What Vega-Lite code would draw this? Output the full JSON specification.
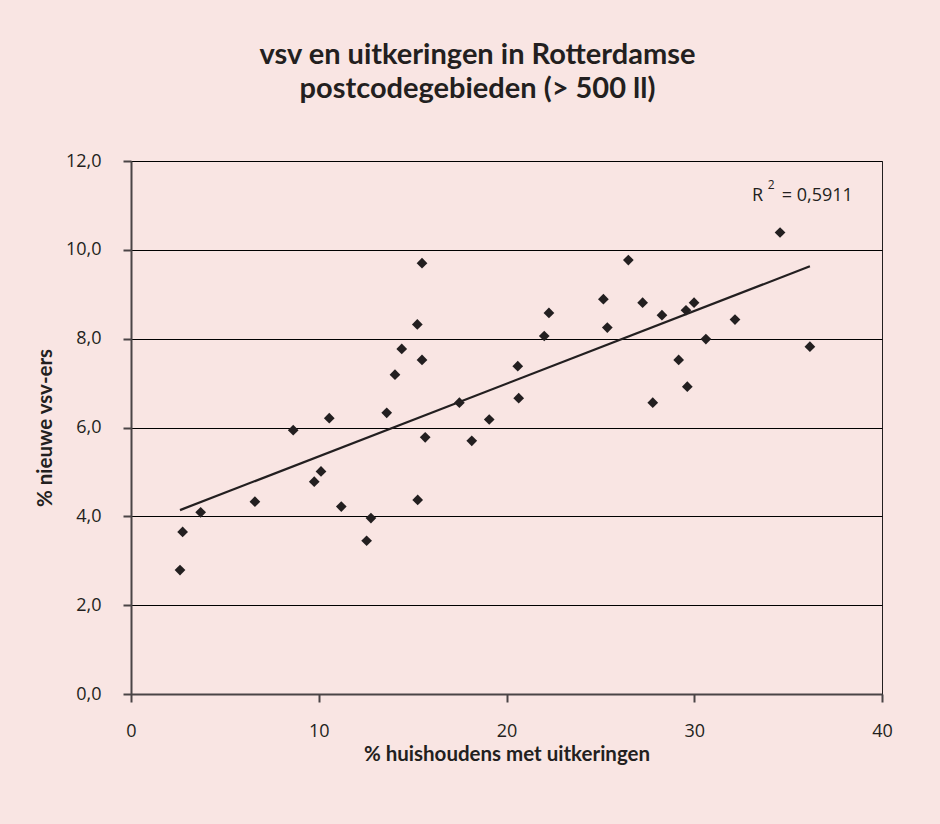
{
  "$schema": "https://vega.github.io/schema/vega-lite/v6.json",
  "width": 751,
  "height": 533,
  "autosize": {"type": "none"},
  "padding": {"left": 131, "top": 161, "right": 58, "bottom": 130},
  "background": "#f9e5e3",
  "title": {
    "text": ["vsv en uitkeringen in Rotterdamse", "postcodegebieden (> 500 ll)"],
    "font": "Lato",
    "fontSize": 29,
    "fontWeight": "bold",
    "color": "#231f20",
    "anchor": "middle",
    "frame": "group",
    "offset": 48,
    "lineHeight": 34,
    "dx": -29
  },
  "config": {
    "view": {"stroke": "#231f20", "strokeWidth": 1},
    "axis": {
      "labelFont": "Open Sans",
      "labelFontSize": 18,
      "labelColor": "#231f20",
      "titleFont": "Lato",
      "titleFontSize": 20.5,
      "titleFontWeight": "bold",
      "titleColor": "#231f20",
      "domainColor": "#4a4446",
      "domainWidth": 2,
      "tickColor": "#4a4446",
      "tickWidth": 2,
      "tickSize": 8,
      "gridColor": "#000000",
      "gridWidth": 1,
      "gridOpacity": 1
    }
  },
  "datasets": {
    "points": [
      {"x": 15.50, "y": 9.70},
      {"x": 15.25, "y": 8.32},
      {"x": 14.42, "y": 7.77},
      {"x": 15.50, "y": 7.52},
      {"x": 14.06, "y": 7.19},
      {"x": 20.60, "y": 7.38},
      {"x": 17.49, "y": 6.56},
      {"x": 20.65, "y": 6.66},
      {"x": 10.56, "y": 6.21},
      {"x": 13.62, "y": 6.33},
      {"x": 19.08, "y": 6.18},
      {"x": 8.64, "y": 5.94},
      {"x": 15.67, "y": 5.78},
      {"x": 18.15, "y": 5.70},
      {"x": 34.57, "y": 10.39},
      {"x": 26.49, "y": 9.77},
      {"x": 25.16, "y": 8.89},
      {"x": 27.25, "y": 8.81},
      {"x": 22.26, "y": 8.58},
      {"x": 29.99, "y": 8.81},
      {"x": 29.56, "y": 8.64},
      {"x": 28.28, "y": 8.53},
      {"x": 32.17, "y": 8.43},
      {"x": 25.37, "y": 8.25},
      {"x": 22.01, "y": 8.06},
      {"x": 30.62, "y": 7.99},
      {"x": 36.16, "y": 7.82},
      {"x": 29.17, "y": 7.52},
      {"x": 29.63, "y": 6.92},
      {"x": 27.79, "y": 6.56},
      {"x": 10.12, "y": 5.01},
      {"x": 9.76, "y": 4.78},
      {"x": 6.60, "y": 4.33},
      {"x": 11.20, "y": 4.22},
      {"x": 15.27, "y": 4.37},
      {"x": 3.71, "y": 4.09},
      {"x": 12.78, "y": 3.96},
      {"x": 2.75, "y": 3.65},
      {"x": 12.55, "y": 3.45},
      {"x": 2.61, "y": 2.79}
    ],
    "trend": [
      {"x": 2.61, "y": 4.14},
      {"x": 36.16, "y": 9.63}
    ]
  },
  "encoding": {
    "x": {
      "field": "x",
      "type": "quantitative",
      "scale": {"domain": [0, 40], "nice": false},
      "axis": {
        "title": "% huishoudens met uitkeringen",
        "values": [0, 10, 20, 30, 40],
        "grid": false,
        "labelPadding": 20,
        "titlePadding": 4,
        "labelFlush": false
      }
    },
    "y": {
      "field": "y",
      "type": "quantitative",
      "scale": {"domain": [0, 12], "nice": false},
      "axis": {
        "title": "% nieuwe vsv-ers",
        "values": [0, 2, 4, 6, 8, 10, 12],
        "grid": true,
        "labelPadding": 22,
        "titlePadding": 10,
        "labelFlush": false,
        "labelExpr": "replace(format(datum.value, '.1f'), '.', ',')"
      }
    }
  },
  "layer": [
    {
      "data": {"name": "points"},
      "mark": {"type": "point", "shape": "diamond", "filled": true, "size": 115, "color": "#231f20", "opacity": 1}
    },
    {
      "data": {"name": "trend"},
      "mark": {"type": "line", "color": "#231f20", "strokeWidth": 2.2}
    },
    {
      "data": {"values": [{"x": 33.08, "y": 11.105, "t": "R"}]},
      "mark": {"type": "text", "align": "left", "baseline": "alphabetic", "font": "Open Sans", "fontSize": 18, "color": "#231f20"},
      "encoding": {"text": {"field": "t"}}
    },
    {
      "data": {"values": [{"x": 33.91, "y": 11.36, "t": "2"}]},
      "mark": {"type": "text", "align": "left", "baseline": "alphabetic", "font": "Open Sans", "fontSize": 12, "color": "#231f20"},
      "encoding": {"text": {"field": "t"}}
    },
    {
      "data": {"values": [{"x": 34.66, "y": 11.105, "t": "= 0,5911"}]},
      "mark": {"type": "text", "align": "left", "baseline": "alphabetic", "font": "Open Sans", "fontSize": 18, "color": "#231f20"},
      "encoding": {"text": {"field": "t"}}
    }
  ]
}
